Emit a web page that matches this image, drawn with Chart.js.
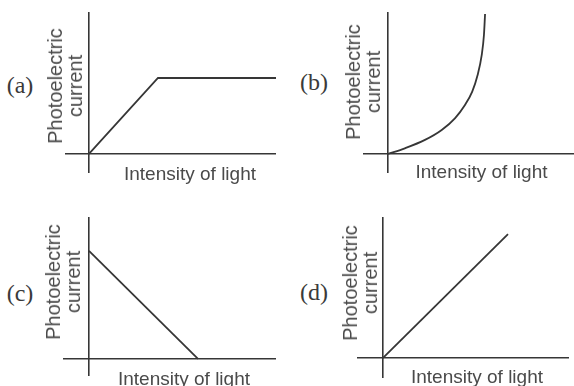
<!DOCTYPE html>
<html>
<head>
<meta charset="utf-8">
<script src="https://cdn.jsdelivr.net/npm/chart.js@4"></script>
<style>
  body { margin: 0; background: #fff; width: 574px; height: 386px; overflow: hidden; position: relative; }
  .box { position: absolute; }
  .tag { position: absolute; font-family: "Liberation Serif", serif; font-size: 24px; line-height: 24px; color: #3a3a3a; transform: translateX(-50%); white-space: nowrap; }
  .xt { position: absolute; font-family: "Liberation Sans", Arial, sans-serif; font-size: 19px; line-height: 19px; color: #4a4a4a; transform: translateX(-50%); white-space: nowrap; }
  .yt { position: absolute; font-family: "Liberation Sans", Arial, sans-serif; font-size: 20px; line-height: 20px; color: #4a4a4a; text-align: center; white-space: nowrap; transform: translate(-50%, -50%) rotate(-90deg); }
</style>
</head>
<body>
<script>
// values (arbitrary units, origin at 0,0)
const panelLabels = ['(a)', '(b)', '(c)', '(d)'];
const xTitle = 'Intensity of light';
const yTitle = ['Photoelectric', 'current'];

const intensityA = [0, 3.69, 10];
const currentA = [0, 5.35, 5.35];

const intensityB = [0, 0.91, 1.99, 2.89, 3.60, 4.14, 4.53, 4.82, 5.04, 5.16, 5.22];
const currentB = [0, 0.40, 0.99, 1.69, 2.51, 3.45, 4.39, 5.56, 6.97, 8.38, 9.86];

const intensityC = [0, 5.83];
const currentC = [7.61, 0];

const intensityD = [0, 6.72];
const currentD = [0, 8.79];

const ink = '#363636';

const panels = [
  { xs: intensityA, ys: currentA, left: 65, top: 12, w: 211, h: 161, xMin: -1.28, yMin: -1.34, smooth: false,
    tag: [20, 73], xt: [190, 164], yt: [64.6, 86] },
  { xs: intensityB, ys: currentB, left: 363, top: 12, w: 211, h: 161, xMin: -1.34, yMin: -1.34, smooth: true,
    tag: [314, 70], xt: [481.5, 162], yt: [362.6, 82] },
  { xs: intensityC, ys: currentC, left: 63, top: 217, w: 213, h: 159, xMin: -1.39, yMin: -1.2, smooth: false,
    tag: [20, 281], xt: [184, 369], yt: [62.6, 282] },
  { xs: intensityD, ys: currentD, left: 357, top: 217, w: 212, h: 161, xMin: -1.40, yMin: -1.42, smooth: false,
    tag: [314, 280], xt: [477, 367], yt: [359.6, 283] }
];

const zeroAxis = (min) => ({
  type: 'linear',
  min: min,
  max: 10,
  afterBuildTicks: (scale) => { scale.ticks = [{ value: 0 }]; },
  grid: { display: true, color: ink, lineWidth: 1.6, drawTicks: false },
  border: { display: false },
  ticks: { display: false }
});

const addText = (cls, text, x, y) => {
  const el = document.createElement('div');
  el.className = cls;
  el.innerHTML = text;
  el.style.left = x + 'px';
  el.style.top = y + 'px';
  document.body.appendChild(el);
};

panels.forEach((p, i) => {
  const box = document.createElement('div');
  box.className = 'box';
  box.style.left = p.left + 'px';
  box.style.top = p.top + 'px';
  box.style.width = p.w + 'px';
  box.style.height = p.h + 'px';
  const cv = document.createElement('canvas');
  cv.width = p.w;
  cv.height = p.h;
  box.appendChild(cv);
  document.body.appendChild(box);

  new Chart(cv.getContext('2d'), {
    type: 'line',
    data: {
      datasets: [{
        data: p.xs.map((x, k) => ({ x: x, y: p.ys[k] })),
        borderColor: ink,
        borderWidth: 1.8,
        pointRadius: 0,
        fill: false,
        clip: false,
        tension: 0,
        cubicInterpolationMode: p.smooth ? 'monotone' : 'default'
      }]
    },
    options: {
      responsive: false,
      animation: false,
      layout: { padding: 0, autoPadding: false },
      plugins: { legend: { display: false }, tooltip: { enabled: false } },
      scales: { x: zeroAxis(p.xMin), y: zeroAxis(p.yMin) }
    }
  });

  addText('tag', panelLabels[i], p.tag[0], p.tag[1]);
  addText('xt', xTitle, p.xt[0], p.xt[1]);
  addText('yt', yTitle.join('<br>'), p.yt[0], p.yt[1]);
});
</script>
</body>
</html>
